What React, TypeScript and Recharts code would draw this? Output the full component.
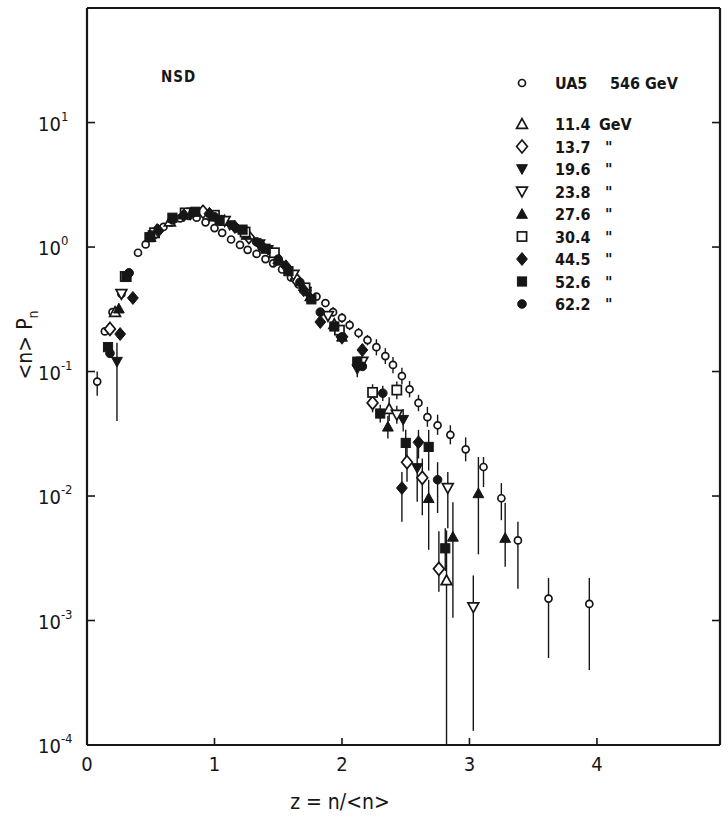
import React from 'react';
import { ScatterChart, Scatter, XAxis, YAxis, ErrorBar } from 'recharts';

// [z, <n>Pn, error low end, error high end]
type Pt = [number, number, number?, number?];

const ua5: Pt[] = [
  [0.08, 0.083, 0.064, 0.1], [0.14, 0.21], [0.2, 0.3], [0.27, 0.42], [0.33, 0.62],
  [0.4, 0.9], [0.46, 1.05], [0.53, 1.27], [0.6, 1.45], [0.66, 1.58], [0.73, 1.7],
  [0.8, 1.78], [0.86, 1.72], [0.93, 1.58], [1.0, 1.42], [1.06, 1.3], [1.13, 1.15],
  [1.2, 1.04], [1.26, 0.95], [1.33, 0.88], [1.4, 0.8], [1.46, 0.74], [1.53, 0.66],
  [1.6, 0.57], [1.66, 0.5], [1.73, 0.45], [1.8, 0.4], [1.87, 0.355],
  [1.93, 0.3, 0.275, 0.33], [2.0, 0.27, 0.245, 0.295], [2.06, 0.236, 0.215, 0.26],
  [2.13, 0.204, 0.185, 0.224], [2.2, 0.179, 0.162, 0.197], [2.27, 0.157, 0.135, 0.182],
  [2.34, 0.133, 0.115, 0.154], [2.4, 0.113, 0.097, 0.131], [2.47, 0.092, 0.079, 0.107],
  [2.53, 0.072, 0.062, 0.084], [2.6, 0.056, 0.048, 0.065], [2.67, 0.043, 0.036, 0.052],
  [2.75, 0.037, 0.031, 0.045], [2.85, 0.031, 0.026, 0.037], [2.97, 0.0237, 0.019, 0.0296],
  [3.11, 0.0171, 0.0118, 0.0206], [3.25, 0.0096, 0.0064, 0.0127], [3.38, 0.0044, 0.0018, 0.0062],
  [3.62, 0.0015, 0.0005, 0.0022], [3.94, 0.00136, 0.0004, 0.0022],
];

const gev114: Pt[] = [
  [0.22, 0.3], [0.65, 1.6], [1.08, 1.62], [1.51, 0.78], [1.94, 0.24],
  [2.37, 0.05, 0.04, 0.062], [2.82, 0.0021, 0.0001, 0.0053],
];

const gev137: Pt[] = [
  [0.18, 0.22], [0.55, 1.35], [0.91, 1.92], [1.27, 1.2], [1.64, 0.55], [2.0, 0.19],
  [2.24, 0.056, 0.047, 0.066], [2.51, 0.0187, 0.013, 0.026], [2.63, 0.014, 0.007, 0.02],
  [2.76, 0.0026, 0.0017, 0.0052],
];

const gev196: Pt[] = [
  [0.235, 0.12, 0.04, 0.17], [0.52, 1.25], [0.82, 1.9], [1.12, 1.5], [1.42, 0.95],
  [1.72, 0.44], [2.12, 0.105, 0.09, 0.12], [2.48, 0.041, 0.033, 0.05],
  [2.59, 0.0168, 0.009, 0.026],
];

const gev238: Pt[] = [
  [0.27, 0.42], [0.54, 1.3], [0.81, 1.85], [1.08, 1.62], [1.35, 1.05], [1.62, 0.6],
  [1.89, 0.28], [2.16, 0.12, 0.105, 0.135], [2.43, 0.045, 0.038, 0.053],
  [2.83, 0.0116, 0.0055, 0.0156], [3.03, 0.00128, 0.00013, 0.0023],
];

const gev276: Pt[] = [
  [0.25, 0.32], [0.5, 1.2], [0.75, 1.82], [1.0, 1.75], [1.25, 1.25], [1.5, 0.8],
  [1.75, 0.4], [2.0, 0.19], [2.36, 0.036, 0.029, 0.044], [2.68, 0.0096, 0.0037, 0.0135],
  [2.87, 0.0047, 0.00105, 0.0089], [3.07, 0.0105, 0.0034, 0.0206],
  [3.28, 0.0046, 0.0027, 0.0088],
];

const gev304: Pt[] = [
  [0.3, 0.58], [0.53, 1.3], [0.77, 1.88], [1.0, 1.8], [1.24, 1.32], [1.47, 0.9],
  [1.71, 0.47], [1.98, 0.215], [2.24, 0.068, 0.058, 0.079], [2.43, 0.071, 0.06, 0.083],
];

const gev445: Pt[] = [
  [0.26, 0.2], [0.36, 0.39], [0.56, 1.35], [0.76, 1.8], [0.96, 1.85], [1.16, 1.45],
  [1.36, 1.05], [1.56, 0.7], [1.7, 0.45], [1.83, 0.25], [2.16, 0.149],
  [2.47, 0.0116, 0.0062, 0.0156], [2.6, 0.027, 0.02, 0.034],
];

const gev526: Pt[] = [
  [0.165, 0.157], [0.31, 0.575], [0.49, 1.2], [0.67, 1.72], [0.85, 1.92], [1.04, 1.65],
  [1.22, 1.38], [1.4, 0.97], [1.58, 0.64], [1.76, 0.38], [1.94, 0.23], [2.12, 0.12],
  [2.3, 0.046, 0.039, 0.054], [2.5, 0.0267, 0.02, 0.034], [2.68, 0.0248, 0.016, 0.034],
  [2.81, 0.0038, 0.0025, 0.0055],
];

const gev622: Pt[] = [
  [0.18, 0.14], [0.33, 0.62], [0.5, 1.25], [0.67, 1.65], [0.83, 1.88], [1.0, 1.75],
  [1.17, 1.42], [1.33, 1.1], [1.5, 0.8], [1.67, 0.52], [1.83, 0.3], [2.0, 0.19],
  [2.16, 0.11], [2.32, 0.067, 0.058, 0.077], [2.75, 0.0135, 0.0073, 0.0187],
];

const legendNames = ['UA5', '11.4', '13.7', '19.6', '23.8', '27.6', '30.4', '44.5', '52.6', '62.2'];
const legendUnits = ['546 GeV', 'GeV', '"', '"', '"', '"', '"', '"', '"', '"'];
const legendKinds = ['circleOpen', 'triUpOpen', 'diamondOpen', 'triDownFilled', 'triDownOpen', 'triUpFilled', 'squareOpen', 'diamondFilled', 'squareFilled', 'circleFilled'];
const seriesPts = [ua5, gev114, gev137, gev196, gev238, gev276, gev304, gev445, gev526, gev622];

const xTicks = [0, 1, 2, 3, 4];
const yTicks = [1e-4, 1e-3, 1e-2, 1e-1, 1, 10];
const yExp = ['-4', '-3', '-2', '-1', '0', '1'];

const X_MAX = 4.965;
const Y_MAX = 83.2;
const INK = '#161616';
const FONT = "'DejaVu Sans Condensed', 'DejaVu Sans', sans-serif";

const toRows = (pts: Pt[]) =>
  pts.map(([z, p, lo, hi]) => ({
    z,
    p,
    err: [lo != null ? p - lo : 0, hi != null ? hi - p : 0],
  }));

function Marker({ cx, cy, kind }: { cx: number; cy: number; kind: string }) {
  const s = 5.4;
  const open = kind.endsWith('Open');
  const fill = open ? '#fff' : INK;
  const common = { fill, stroke: INK, strokeWidth: open ? 1.7 : 1 };
  if (kind.startsWith('circle')) {
    return <circle cx={cx} cy={cy} r={kind === 'circleOpen' ? 3.5 : 4.3} {...common} />;
  }
  if (kind.startsWith('triUp')) {
    return <polygon points={`${cx},${cy - s} ${cx + s},${cy + s * 0.8} ${cx - s},${cy + s * 0.8}`} {...common} />;
  }
  if (kind.startsWith('triDown')) {
    return <polygon points={`${cx},${cy + s} ${cx + s},${cy - s * 0.8} ${cx - s},${cy - s * 0.8}`} {...common} />;
  }
  if (kind.startsWith('diamond')) {
    return <polygon points={`${cx},${cy - s * 1.2} ${cx + s},${cy} ${cx},${cy + s * 1.2} ${cx - s},${cy}`} {...common} />;
  }
  return <rect x={cx - s * 0.85} y={cy - s * 0.85} width={s * 1.7} height={s * 1.7} {...common} />;
}

const BottomTick = (props: any) => {
  const { x, y, payload } = props;
  return (
    <g>
      {payload.value > 0 && <line x1={x} y1={y} x2={x} y2={y - 7} stroke={INK} strokeWidth={1.6} />}
      <text x={x} y={y + 26} textAnchor="middle" fontSize={20} fontFamily={FONT} fill={INK}>
        {payload.value}
      </text>
    </g>
  );
};

const TopTick = (props: any) => {
  const { x, y, payload } = props;
  if (payload.value <= 0) return <g />;
  return <line x1={x} y1={y} x2={x} y2={y + 8} stroke={INK} strokeWidth={1.6} />;
};

const LeftTick = (props: any) => {
  const { x, y, index } = props;
  return (
    <g>
      {index > 0 && <line x1={x} y1={y} x2={x + 8} y2={y} stroke={INK} strokeWidth={1.6} />}
      <text x={38} y={y + 8} fontSize={20} fontFamily={FONT} fill={INK}>
        10
        <tspan fontSize={13} dy={-10}>{yExp[index]}</tspan>
      </text>
    </g>
  );
};

const RightTick = (props: any) => {
  const { x, y, index } = props;
  if (index === 0) return <g />;
  return <line x1={x} y1={y} x2={x - 8} y2={y} stroke={INK} strokeWidth={1.6} />;
};

export default function App() {
  return (
    <div style={{ position: 'relative', width: 728, height: 820, background: '#fff' }}>
      <style>{'body{margin:0;background:#fff}'}</style>
      <ScatterChart width={728} height={820} margin={{ top: 7, right: 7, bottom: 0, left: 0 }}>
        <XAxis
          xAxisId="b"
          dataKey="z"
          type="number"
          domain={[0, X_MAX]}
          ticks={xTicks}
          interval={0}
          allowDataOverflow
          height={75}
          tickSize={0}
          tickMargin={0}
          tickLine={false}
          axisLine={{ stroke: INK, strokeWidth: 2.2 }}
          tick={<BottomTick />}
        />
        <XAxis
          xAxisId="t"
          orientation="top"
          type="number"
          domain={[0, X_MAX]}
          ticks={xTicks}
          interval={0}
          allowDataOverflow
          height={1}
          tickSize={0}
          tickMargin={0}
          tickLine={false}
          axisLine={{ stroke: INK, strokeWidth: 2.2 }}
          tick={<TopTick />}
        />
        <YAxis
          yAxisId="l"
          dataKey="p"
          type="number"
          scale="log"
          domain={[1e-4, Y_MAX]}
          ticks={yTicks}
          interval={0}
          allowDataOverflow
          width={87}
          tickSize={0}
          tickMargin={0}
          tickLine={false}
          axisLine={{ stroke: INK, strokeWidth: 2.2 }}
          tick={<LeftTick />}
        />
        <YAxis
          yAxisId="r"
          orientation="right"
          type="number"
          scale="log"
          domain={[1e-4, Y_MAX]}
          ticks={yTicks}
          interval={0}
          allowDataOverflow
          width={1}
          tickSize={0}
          tickMargin={0}
          tickLine={false}
          axisLine={{ stroke: INK, strokeWidth: 2.2 }}
          tick={<RightTick />}
        />
        {seriesPts.map((pts, i) => (
          <Scatter
            key={legendNames[i]}
            name={`${legendNames[i]} ${legendUnits[i]}`}
            xAxisId="b"
            yAxisId="l"
            data={toRows(pts)}
            dataKey="p"
            isAnimationActive={false}
            shape={(p: any) => <Marker cx={p.cx} cy={p.cy} kind={legendKinds[i]} />}
          >
            <ErrorBar dataKey="err" direction="y" width={0} stroke={INK} strokeWidth={1.4} isAnimationActive={false} />
          </Scatter>
        ))}
      </ScatterChart>
      <svg
        width={728}
        height={820}
        style={{ position: 'absolute', left: 0, top: 0, pointerEvents: 'none' }}
        fontFamily={FONT}
        fill={INK}
      >
        <text x={161} y={82} fontSize={15} fontWeight="bold" letterSpacing={1}>NSD</text>
        {legendNames.map((name, i) => {
          const cy = i === 0 ? 83 : 124 + (i - 1) * 22.5;
          const unitX = i === 0 ? 610 : i === 1 ? 599 : 605;
          return (
            <g key={name}>
              <Marker cx={522} cy={cy} kind={legendKinds[i]} />
              <text x={555} y={cy + 6} fontSize={16} fontWeight="bold">{name}</text>
              <text x={unitX} y={cy + 6} fontSize={16} fontWeight="bold">{legendUnits[i]}</text>
            </g>
          );
        })}
        <text x={340} y={809} fontSize={21} textAnchor="middle">z = n/&lt;n&gt;</text>
        <text x={32} y={345} fontSize={21} textAnchor="middle" transform="rotate(-90 32 345)">
          &lt;n&gt;  P<tspan fontSize={14} dy={6}>n</tspan>
        </text>
      </svg>
    </div>
  );
}
